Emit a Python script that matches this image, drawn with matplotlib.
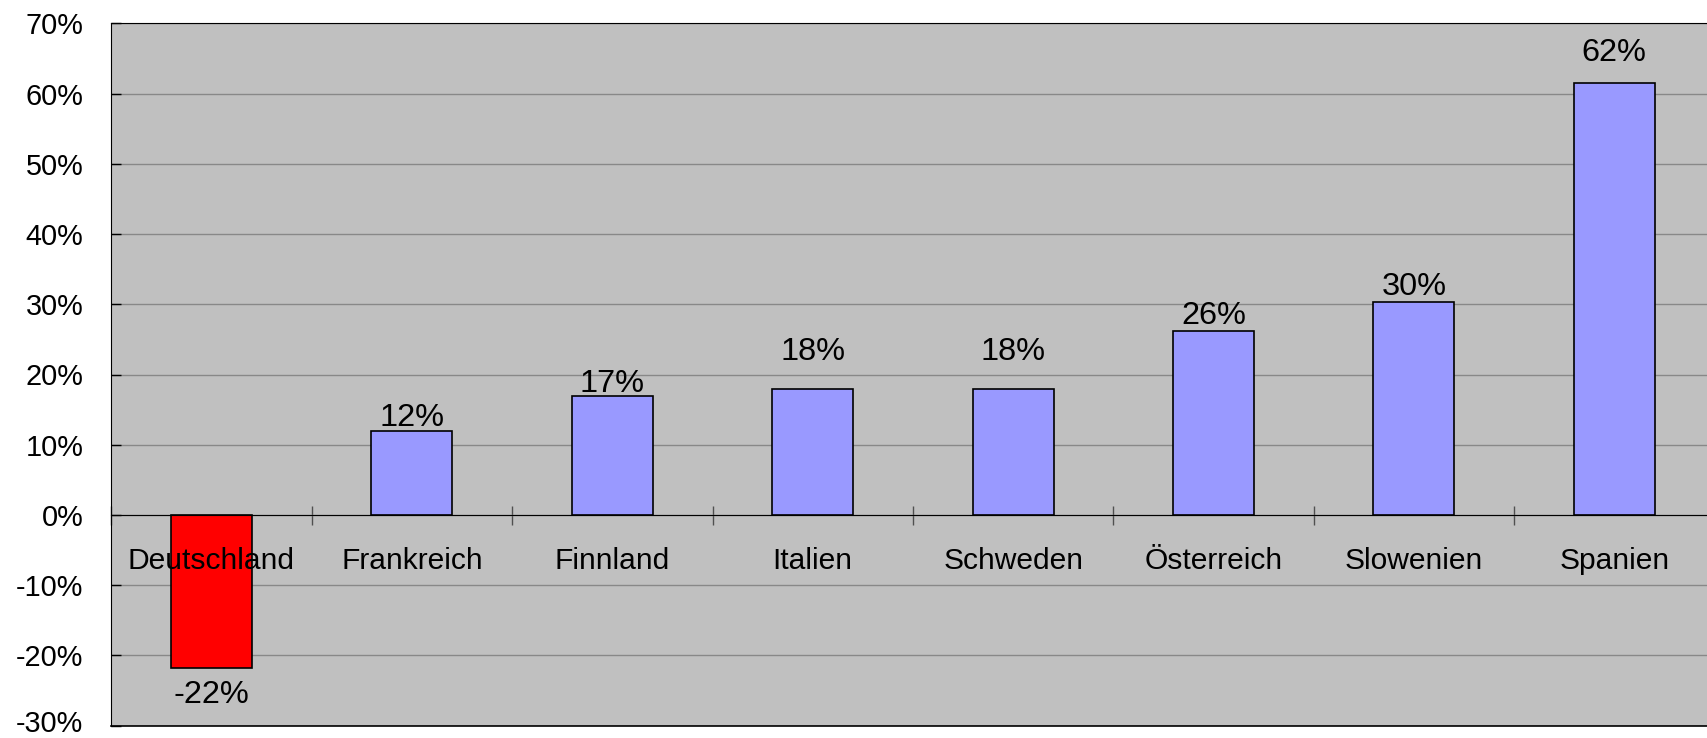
import matplotlib
matplotlib.use('Agg')
import matplotlib.pyplot as plt
import matplotlib.transforms as mtransforms
import numpy as np
from matplotlib.ticker import FixedLocator, PercentFormatter

plt.rcParams['font.family'] = ['Liberation Sans', 'DejaVu Sans']
plt.rcParams['axes.unicode_minus'] = False

countries = ['Deutschland', 'Frankreich', 'Finnland', 'Italien', 'Schweden',
             'Österreich', 'Slowenien', 'Spanien']
values = [-21.8, 11.9, 16.9, 17.9, 17.9, 26.2, 30.3, 61.5]
labels = ['-22%', '12%', '17%', '18%', '18%', '26%', '30%', '62%']
# baseline distance of the value label from the bar end, in pixels
label_gap = [33, 5, 4, 29, 29, 7, 7, 22]

px = 72 / 100.0  # one pixel in points
fs_cat = 21.6
fs_val = 23.4
fs_y = 20.8

fig = plt.figure(figsize=(17.08, 7.38), dpi=100)
ax = fig.add_axes([111.3 / 1708, 12.3 / 738, 1603.2 / 1708, 702.4 / 738])
ax.set_facecolor('#C0C0C0')

x = np.arange(len(countries))
colors = ['#FF0000' if v < 0 else '#9999FF' for v in values]
ax.bar(x, values, width=0.405, color=colors, edgecolor='black', linewidth=1.2, zorder=3)

ax.set_xlim(-0.5, len(countries) - 0.5)
ax.set_ylim(-30, 70)
ax.yaxis.set_major_locator(FixedLocator(np.arange(-30, 71, 10)))
ax.yaxis.set_major_formatter(PercentFormatter(decimals=0))
ax.grid(axis='y', color='#888888', linewidth=1.0, zorder=0)
ax.tick_params(axis='y', direction='in', length=10 * px, width=1, color='black',
               labelsize=fs_y, pad=28 * px)

# zero line carries the category separators
ax.spines['bottom'].set_position(('data', 0))
ax.spines['bottom'].set_zorder(4)
ax.spines['right'].set_visible(False)
ax.set_xticks(np.arange(len(countries) + 1) - 0.5)
ax.set_xticklabels([])
ax.tick_params(axis='x', direction='inout', length=19 * px, width=1, color='#505050')
ax.axhline(-30, color='black', linewidth=1.2, clip_on=False, zorder=5)

# keep the lowest tick label inside the canvas
lowest = ax.yaxis.get_major_ticks()[0].label1
lowest.set_verticalalignment('bottom')
lowest.set_transform(lowest.get_transform() +
                     mtransforms.ScaledTranslation(0, -12 / 100, fig.dpi_scale_trans))

for i, name in enumerate(countries):
    ax.annotate(name, (i, 0), xytext=(0, -54 * px), textcoords='offset points',
                ha='center', va='baseline', fontsize=fs_cat, zorder=6)

for i, (v, lab) in enumerate(zip(values, labels)):
    if v >= 0:
        off = label_gap[i] * px
    else:
        off = -(label_gap[i] + 2) * px
    ax.annotate(lab, (i, v), xytext=(0, off), textcoords='offset points',
                ha='center', va='baseline', fontsize=fs_val, zorder=6)

fig.savefig('out.png', dpi=100)
